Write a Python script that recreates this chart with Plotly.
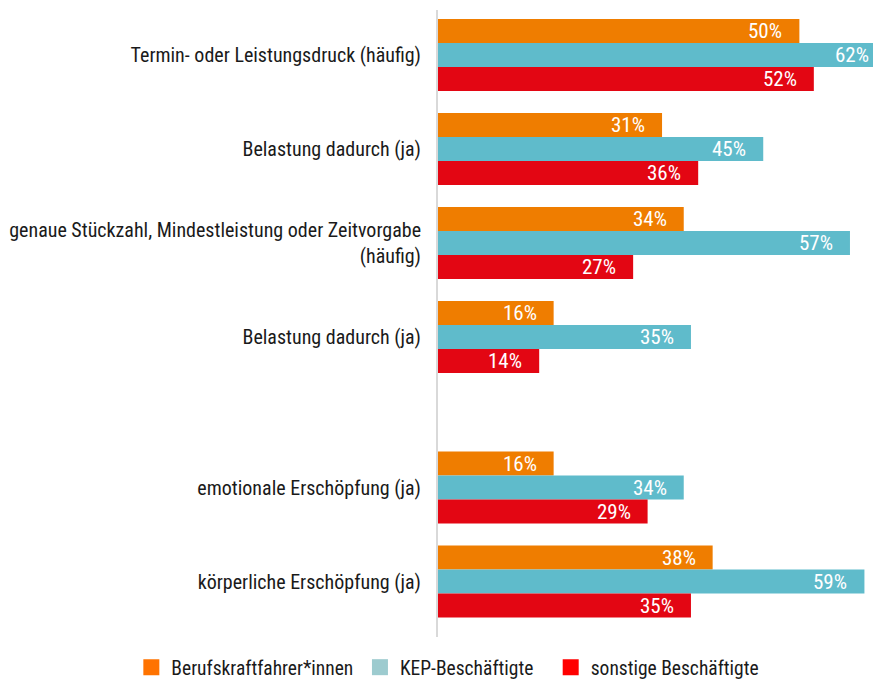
import plotly.graph_objects as go

categories = [
    "Termin- oder Leistungsdruck (häufig)",
    "Belastung dadurch (ja)",
    "genaue Stückzahl, Mindestleistung oder Zeitvorgabe<br>(häufig)",
    "Belastung dadurch (ja)",
    "emotionale Erschöpfung (ja)",
    "körperliche Erschöpfung (ja)",
]
series_names = ["Berufskraftfahrer*innen", "KEP-Beschäftigte", "sonstige Beschäftigte"]
berufskraftfahrer = [50, 31, 34, 16, 16, 38]
kep = [62, 45, 57, 35, 34, 59]
sonstige = [52, 36, 27, 14, 29, 35]

bar_colors = ["#EF7D00", "#5FBBCB", "#E30613"]
legend_colors = ["#FF7300", "#9DCBCF", "#FF0000"]

FONT = "Roboto Condensed, Liberation Sans Narrow, DejaVu Sans Condensed, sans-serif"
SECTION_GAP = 0.6
BARGAP = 0.234
XMAX = 62.4

# y positions: second section is separated by a gap
ypos = [i + (SECTION_GAP if i >= 4 else 0) for i in range(len(categories))]

# legend placement (container fraction, left edge of each legend box)
legend_x = [0.140, 0.3995, 0.616]
legend_ids = ["legend", "legend2", "legend3"]

fig = go.Figure()
all_values = [berufskraftfahrer, kep, sonstige]
bar_w = (1 - BARGAP) / 3
annotations = []
for k, (name, vals) in enumerate(zip(series_names, all_values)):
    fig.add_trace(go.Bar(
        y=ypos, x=vals, orientation="h", name=name,
        marker=dict(color=bar_colors[k], line=dict(width=0)),
        showlegend=False, hoverinfo="x+name",
    ))
    for yv, v in zip(ypos, vals):
        annotations.append(dict(
            x=v, y=yv + (k - 1) * bar_w, xref="x", yref="y",
            text=f"{v}%", showarrow=False, xanchor="right", xshift=-15,
            yanchor="middle",
            font=dict(family=FONT, size=21, color="white"),
        ))
    # legend-only entry
    fig.add_trace(go.Scatter(
        x=[None], y=[None], mode="markers", name=name,
        marker=dict(symbol="square", size=16, color=legend_colors[k]),
        showlegend=True, legend=legend_ids[k],
    ))

legend_common = dict(orientation="h", xref="container", yref="container",
                     xanchor="left", y=0.0, yanchor="bottom",
                     font=dict(family=FONT, size=19.5, color="#1a1a1a"),
                     itemwidth=30, bgcolor="rgba(0,0,0,0)")

fig.update_layout(
    width=881, height=679,
    margin=dict(l=430, r=0, t=2, b=50, autoexpand=False),
    plot_bgcolor="white", paper_bgcolor="white",
    barmode="group", bargap=BARGAP, bargroupgap=0,
    font=dict(family=FONT, size=20, color="#1a1a1a"),
    xaxis=dict(range=[0, XMAX], showticklabels=False, showgrid=False,
               zeroline=False, showline=False, automargin=False),
    yaxis=dict(range=[6.19, -0.479], tickvals=ypos, ticktext=categories,
               showgrid=False, zeroline=False, showline=True,
               linecolor="#D9D9D9", linewidth=2, ticks="",
               ticklabelstandoff=11, automargin=False,
               tickfont=dict(family=FONT, size=20, color="#1a1a1a")),
    legend=dict(legend_common, x=legend_x[0]),
    legend2=dict(legend_common, x=legend_x[1]),
    legend3=dict(legend_common, x=legend_x[2]),
    annotations=annotations,
)

fig.write_html("out.html")
